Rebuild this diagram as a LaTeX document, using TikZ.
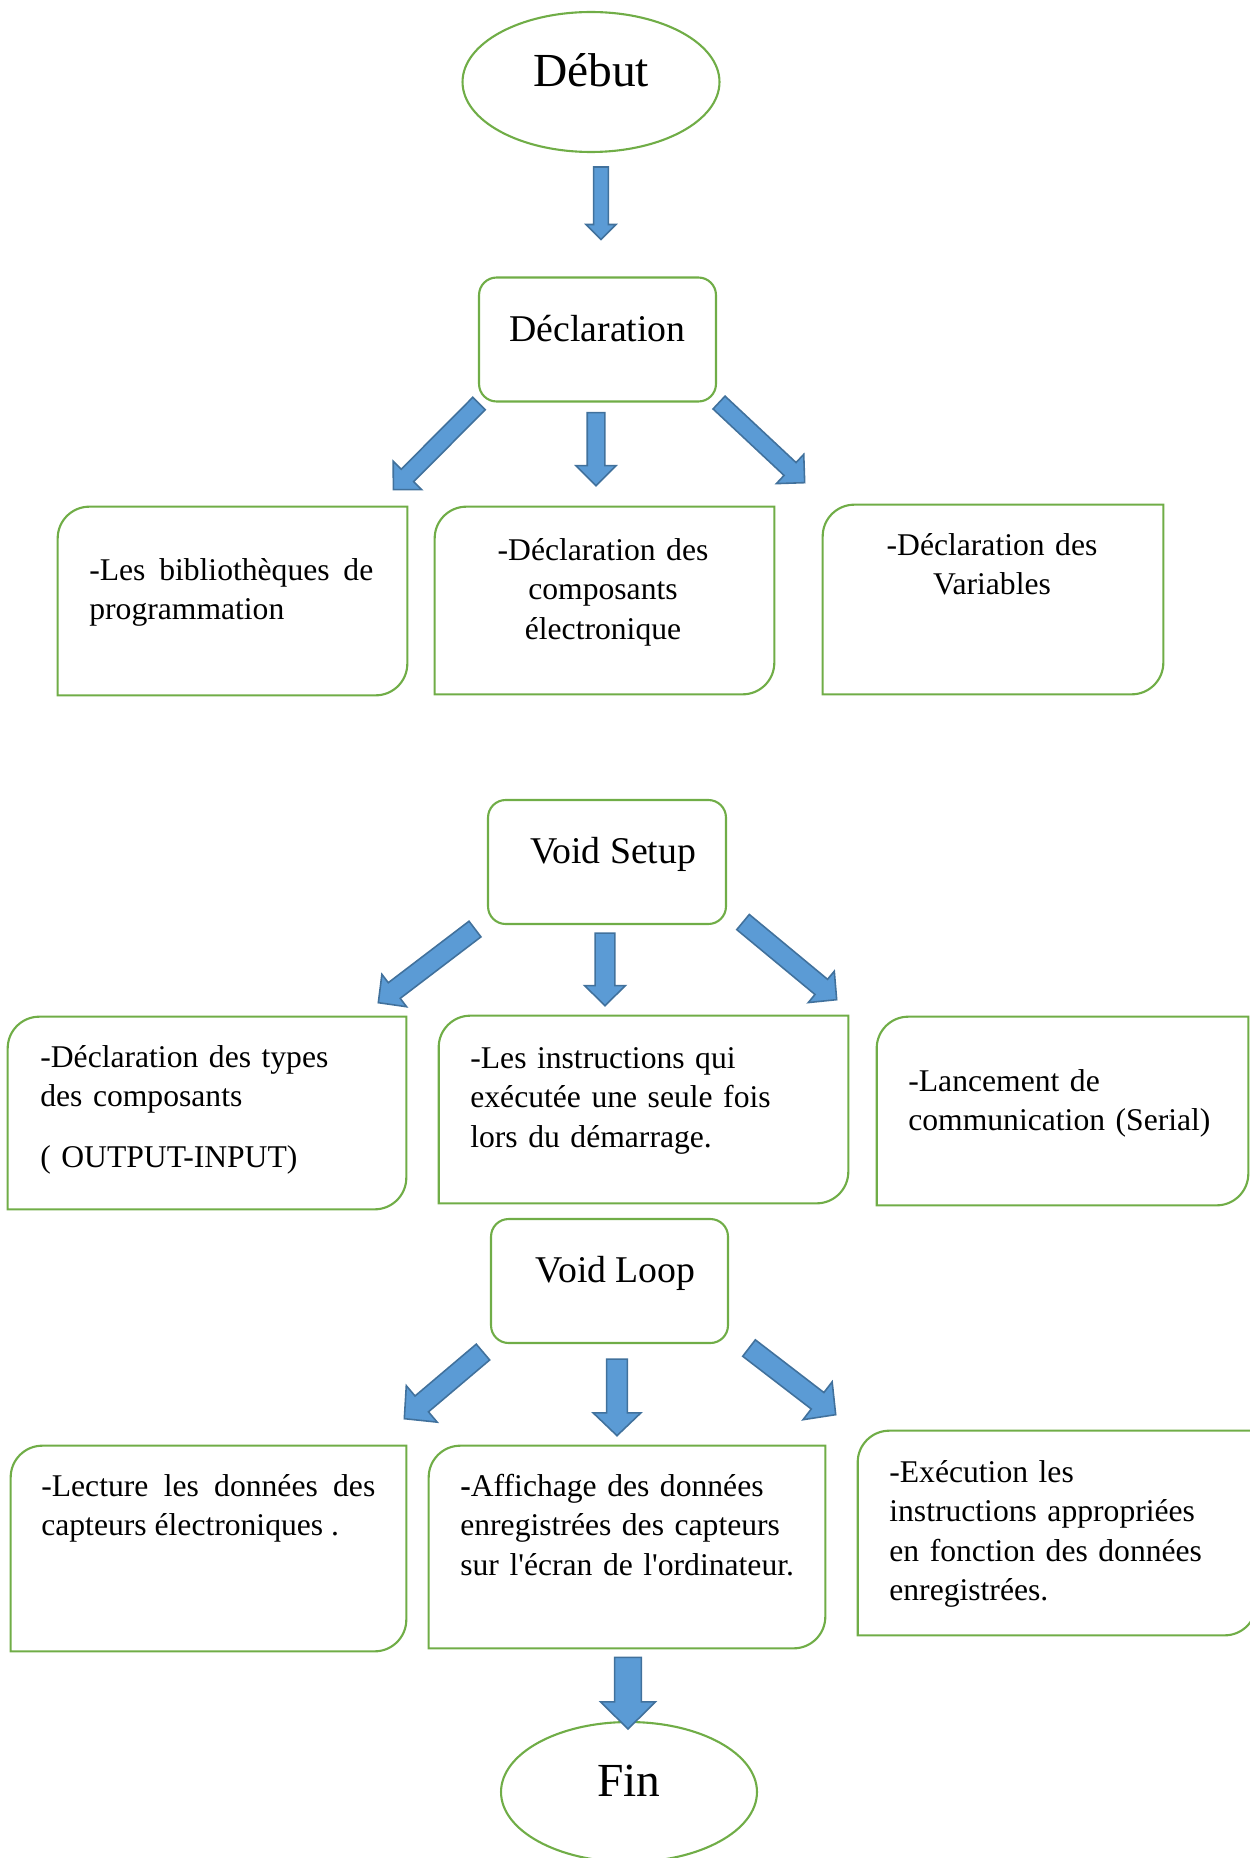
\documentclass[tikz,border=0pt]{standalone}
\usepackage{fontspec}
\setmainfont{Liberation Serif}
\usetikzlibrary{calc,shapes.geometric}

\definecolor{vertbord}{HTML}{70AD47}
\definecolor{bleufond}{HTML}{5B9BD5}
\definecolor{bleutrait}{HTML}{41719C}

% cadre avec coins arrondis en diagonale
\newcommand{\bordure}[1]{%
  \draw[draw=vertbord, line width=1.2pt]
    ([xshift=18pt]#1.north west) -- (#1.north east) -- ([yshift=18pt]#1.south east)
    arc[start angle=0, end angle=-90, radius=18pt] -- (#1.south west)
    -- ([yshift=-18pt]#1.north west) arc[start angle=180, end angle=90, radius=18pt] -- cycle;}

\begin{document}
\begin{tikzpicture}[x=0.02cm, y=0.02cm,
	ovale/.style={draw=vertbord, line width=1.2pt, ellipse, inner sep=0pt, minimum width=5.14cm, minimum height=2.8cm, font=\fontsize{27}{32}\selectfont, text height=18pt, text depth=12.5pt},
	titre/.style={draw=vertbord, line width=1.2pt, rounded corners=10pt, inner sep=0pt, minimum width=4.74cm, minimum height=2.48cm, font=\fontsize{21.5}{26}\selectfont, text height=15pt, text depth=13pt},
	boite/.style={inner sep=0pt},
	corps/.style={inner sep=0pt, font=\fontsize{18}{22.5}\selectfont},
	fleche/.style n args={3}{draw=bleutrait, fill=bleufond, line width=0.9pt, line join=miter,
		to path={let \p1=(\tikztostart), \p2=(\tikztotarget), \p3=($(\p2)!#3!(\p1)$) in
			($(\p1)!#1!90:(\p2)$) -- ($(\p3)!#1!-90:(\p1)$) -- ($(\p3)!#2!-90:(\p1)$) -- (\p2)
			-- ($(\p3)!#2!90:(\p1)$) -- ($(\p3)!#1!90:(\p1)$) -- ($(\p1)!#1!-90:(\p2)$) -- cycle}}
]
	\useasboundingbox (0,0) rectangle (1249,-1858);

	% debut et declaration
	\node[ovale] (debut) at (591,-82) {Début};
	\node[titre] (decl) at (597.5,-339.5) {Déclaration};

	\node[boite, minimum width=6.98cm, minimum height=3.76cm] (gA) at (232.5,-601) {};
	\node[boite, minimum width=6.78cm, minimum height=3.74cm] (gB) at (604.5,-600.5) {};
	\node[boite, minimum width=6.8cm, minimum height=3.78cm] (gC) at (993,-599.5) {};
	\bordure{gA}
	\bordure{gB}
	\bordure{gC}

	\node[corps, anchor=base west, text width=5.68cm, align=justify] (tA) at (89,-580) {-Les bibliothèques de programmation};
	\node[corps, anchor=base, text width=6cm, align=center] (tB) at (603,-560) {-Déclaration des\\composants\\électronique};
	\node[corps, anchor=base, text width=6cm, align=center] (tC) at (992,-555) {-Déclaration des\\Variables};

	% setup
	\node[titre, minimum width=4.76cm] (setup) at (607,-862) {\hspace*{7pt}Void Setup};

	\node[boite, minimum width=7.96cm, minimum height=3.84cm] (gD) at (207,-1113) {};
	\node[boite, minimum width=8.18cm, minimum height=3.74cm] (gE) at (643.5,-1109.5) {};
	\node[boite, minimum width=7.42cm, minimum height=3.76cm] (gF) at (1062.5,-1111) {};
	\bordure{gD}
	\bordure{gE}
	\bordure{gF}

	\node[corps, anchor=base west, text width=7cm, align=left] (tD) at (40,-1067) {-Déclaration des types\\des composants\\[12pt]( OUTPUT-INPUT)};
	\node[corps, anchor=base west, text width=7.2cm, align=left] (tE) at (470,-1068) {-Les instructions qui\\exécutée une seule fois\\lors du démarrage.};
	\node[corps, anchor=base west, text width=6.8cm, align=left] (tF) at (908,-1091) {-Lancement de\\communication (Serial)};

	% loop
	\node[titre] (loop) at (609.5,-1281) {\hspace*{7pt}Void Loop};

	\node[boite, minimum width=7.9cm, minimum height=4.1cm] (gG) at (208.5,-1548.5) {};
	\node[boite, minimum width=7.92cm, minimum height=4.04cm] (gH) at (627,-1547) {};
	\node[boite, minimum width=7.96cm, minimum height=4.08cm] (gI) at (1057,-1533) {};
	\bordure{gG}
	\bordure{gH}
	\bordure{gI}

	\node[corps, anchor=base west, text width=6.68cm, align=justify] (tG) at (41,-1496) {-Lecture les données des capteurs électroniques .};
	\node[corps, anchor=base west, text width=7.2cm, align=left] (tH) at (460,-1496) {{\bfseries -}Affichage des données\\enregistrées des capteurs\\sur l\textquotesingle écran de l\textquotesingle ordinateur.};
	\node[corps, anchor=base west, text width=7.2cm, align=left] (tI) at (889,-1482) {-Exécution les\\instructions appropriées\\en fonction des données\\enregistrées.};

	% fin
	\node[ovale, minimum width=5.12cm] (fin) at (629,-1792) {Fin};

	% fleches
	\draw[fleche={4.2pt}{8.5pt}{8.5pt}] ([shift={(10,-14)}]debut.south) to ([shift={(3.5,37)}]decl.north);

	\draw[fleche={5pt}{11.4pt}{11.4pt}] ([shift={(1,-1)}]decl.south west) to ([shift={(-14,17)}]gA.north east);
	\draw[fleche={5pt}{11.4pt}{11.4pt}] ([shift={(-1.5,-10)}]decl.south) to ([shift={(-8.5,21)}]gB.north);
	\draw[fleche={5pt}{11.4pt}{11.4pt}] ([shift={(2,0)}]decl.south east) to ([shift={(-18,22)}]gC.north west);

	\draw[fleche={5.6pt}{11.6pt}{11.4pt}] ([shift={(-12,-4)}]setup.south west) to ([shift={(-28,14)}]gD.north east);
	\draw[fleche={5.6pt}{11.6pt}{11.4pt}] ([shift={(-2,-8)}]setup.south) to ([shift={(-38.5,10)}]gE.north);
	\draw[fleche={5.6pt}{11.6pt}{11.4pt}] ([shift={(16,3)}]setup.south east) to ([shift={(-40,17)}]gF.north west);

	\draw[fleche={5.9pt}{13.6pt}{13pt}] ([shift={(-7,-8)}]loop.south west) to ([shift={(-2,27)}]gG.north east);
	\draw[fleche={5.9pt}{13.6pt}{13pt}] ([shift={(7.5,-15)}]loop.south) to ([shift={(-10,10)}]gH.north);
	\draw[fleche={5.9pt}{13.6pt}{13pt}] ([shift={(20,-4)}]loop.south east) to ([shift={(-22,16)}]gI.north west);

	\draw[fleche={7.6pt}{15.6pt}{15.4pt}] ([shift={(1,-9)}]gH.south) to ([shift={(-1,-8)}]fin.north);

\end{tikzpicture}
\end{document}
